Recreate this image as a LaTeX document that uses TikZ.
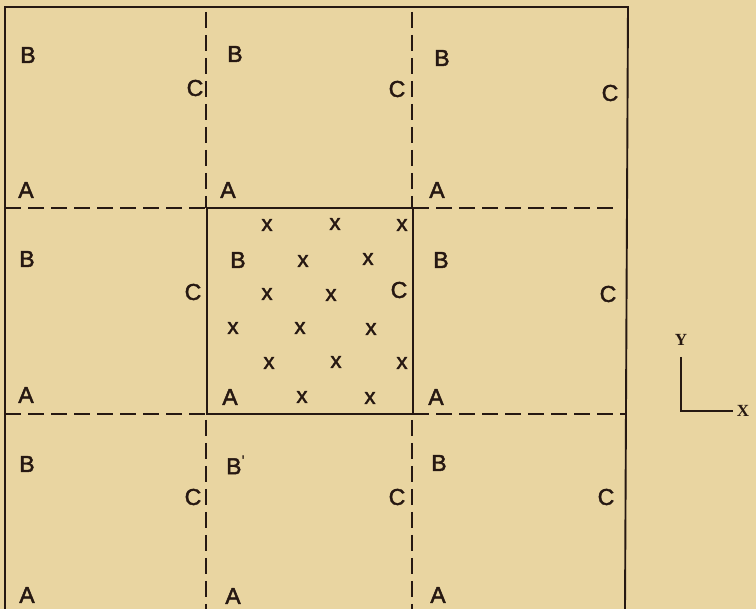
\documentclass[tikz,border=0pt]{standalone}
\usepackage{fontspec}
\setmainfont{Liberation Sans}[BoldFont=Liberation Sans, BoldFeatures={FakeBold=2}]
\newfontfamily\axisfont{Liberation Serif}
\definecolor{paper}{RGB}{233,213,161}
\definecolor{ink}{RGB}{38,24,18}
\begin{document}
\begin{tikzpicture}[x=1pt,y=-1pt,
  lbl/.style={font=\bfseries\fontsize{23}{23}\selectfont, text=ink, inner sep=0pt},
  crossmark/.style={font=\bfseries\fontsize{22}{22}\selectfont, text=ink, inner sep=0pt},
  axlbl/.style={font=\axisfont\bfseries\fontsize{17}{17}\selectfont, text=ink, inner sep=0pt},
  frameline/.style={draw=ink, line width=1.9pt, line cap=round},
  dashline/.style={draw=ink, line width=1.9pt, dash pattern=on 16pt off 7pt},
  axisline/.style={draw=ink, line width=1.6pt}]
\fill[paper] (0,0) rectangle (756,609);
\useasboundingbox (0,0) rectangle (756,609);
% outer frame (no bottom edge)
\draw[frameline] (5,609) -- (5,7) -- (628,7) -- (625,609);
% dashed grid lines
\draw[dashline] (5,208) -- (207,208);
\draw[dashline] (413,208) -- (614,208);
\draw[dashline] (5,414) -- (207,414);
\draw[dashline] (413,414) -- (625,414);
\draw[dashline] (206,12) -- (206,208);
\draw[dashline] (206,420) -- (206,609);
\draw[dashline] (412,12) -- (412,208);
\draw[dashline] (412,420) -- (412,609);
% central cell
\draw[frameline] (207,208) rectangle (413,414);
% top row
\node[lbl] (tlB) at (28,55) {B};
\node[lbl] (tlC) at (195,88) {C};
\node[lbl] (tlA) at (26,190) {A};
\node[lbl] (tmB) at (235,54) {B};
\node[lbl] (tmC) at (397,89) {C};
\node[lbl] (tmA) at (228,190) {A};
\node[lbl] (trB) at (442,58) {B};
\node[lbl] (trC) at (610,93) {C};
\node[lbl] (trA) at (437,190) {A};
% middle row
\node[lbl] (mlB) at (27,259) {B};
\node[lbl] (mlC) at (193,292) {C};
\node[lbl] (mlA) at (26,395) {A};
\node[lbl] (mmB) at (238,260) {B};
\node[lbl] (mmC) at (399,290) {C};
\node[lbl] (mmA) at (230,397) {A};
\node[lbl] (mrB) at (441,260) {B};
\node[lbl] (mrC) at (608,294) {C};
\node[lbl] (mrA) at (436,397) {A};
% bottom row
\node[lbl] (blB) at (27,464) {B};
\node[lbl] (blC) at (193,497) {C};
\node[lbl] (blA) at (27,595) {A};
\node[lbl, anchor=west] (bmB) at (226,465) {B\raisebox{0.55ex}{\mdseries\fontsize{17}{17}\selectfont\textquotesingle}};
\node[lbl] (bmC) at (397,497) {C};
\node[lbl] (bmA) at (233,596) {A};
\node[lbl] (brB) at (439,463) {B};
\node[lbl] (brC) at (606,497) {C};
\node[lbl] (brA) at (438,595) {A};
% crosses in the central cell
\node[crossmark] (x1) at (267,225) {x};
\node[crossmark] (x2) at (335,224) {x};
\node[crossmark] (x3) at (402,225) {x};
\node[crossmark] (x4) at (303,261) {x};
\node[crossmark] (x5) at (368,259) {x};
\node[crossmark] (x6) at (267,294) {x};
\node[crossmark] (x7) at (331,295) {x};
\node[crossmark] (x8) at (233,328) {x};
\node[crossmark] (x9) at (300,328) {x};
\node[crossmark] (x10) at (371,329) {x};
\node[crossmark] (x11) at (269,363) {x};
\node[crossmark] (x12) at (336,362) {x};
\node[crossmark] (x13) at (402,363) {x};
\node[crossmark] (x14) at (302,397) {x};
\node[crossmark] (x15) at (370,398) {x};
% axes
\node[axlbl] (ylab) at (681,340) {Y};
\node[axlbl] (xlab) at (743,411) {X};
\coordinate (org) at (681,411);
\draw[axisline] (681,357) -- (org) -- (733,411);
\end{tikzpicture}
\end{document}
